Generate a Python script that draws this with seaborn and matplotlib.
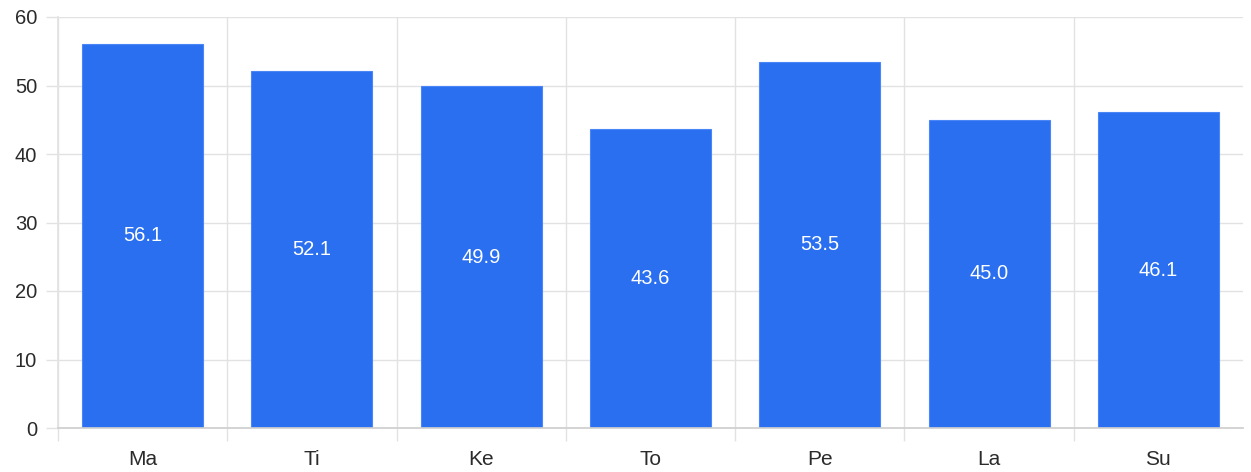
import numpy as np
import pandas as pd
import matplotlib
matplotlib.use("Agg")
import matplotlib.pyplot as plt
import seaborn as sns
from matplotlib.ticker import FixedLocator

# --- chart data ---
categories = ["Ma", "Ti", "Ke", "To", "Pe", "La", "Su"]
values = [56.1, 52.1, 49.9, 43.6, 53.5, 45.0, 46.1]
y_ticks = [0, 10, 20, 30, 40, 50, 60]

df = pd.DataFrame({"Category": categories, "Value": values})

sns.set_theme(style="white")
plt.rcParams["font.family"] = ["Liberation Sans", "DejaVu Sans"]

GRID = "#e2e2e2"
BAR = "#2a6ff0"

fig = plt.figure(figsize=(12.51, 4.72), dpi=100)
ax = fig.add_axes([58 / 1251, 1 - 428 / 472, (1243 - 58) / 1251, (428 - 17) / 472])

sns.barplot(data=df, x="Category", y="Value", color=BAR, saturation=1,
            width=0.715, edgecolor="#4a86f5", linewidth=0.8, ax=ax, zorder=3)

ax.set_xlim(-0.5, len(categories) - 0.5)
ax.set_ylim(0, 60)
ax.set_yticks(y_ticks)
ax.set_xlabel("")
ax.set_ylabel("")

# category boundary gridlines (minor ticks)
ax.xaxis.set_minor_locator(FixedLocator(np.arange(-0.5, len(categories) - 0.5, 1.0)))
ax.grid(True, which="minor", axis="x", color=GRID, linewidth=1, zorder=0)
ax.grid(True, which="major", axis="y", color=GRID, linewidth=1, zorder=0)

ax.tick_params(axis="x", which="major", length=0, pad=16, labelsize=15, labelcolor="#2b2b2b")
ax.tick_params(axis="x", which="minor", length=9, width=1, color=GRID, bottom=True)
ax.tick_params(axis="y", which="major", length=9, width=1, color=GRID, left=True,
               pad=6, labelsize=14.5, labelcolor="#2b2b2b")

for side in ["top", "right"]:
    ax.spines[side].set_visible(False)
ax.spines["left"].set_color(GRID)
ax.spines["bottom"].set_color("#cfcfcf")
ax.spines["bottom"].set_zorder(4)

# value labels in the middle of each bar
for i, v in enumerate(values):
    ax.text(i, v / 2, f"{v:.1f}", ha="center", va="center", color="white",
            fontsize=14.5, zorder=5)

fig.savefig("out.png", dpi=100)
plt.close(fig)
